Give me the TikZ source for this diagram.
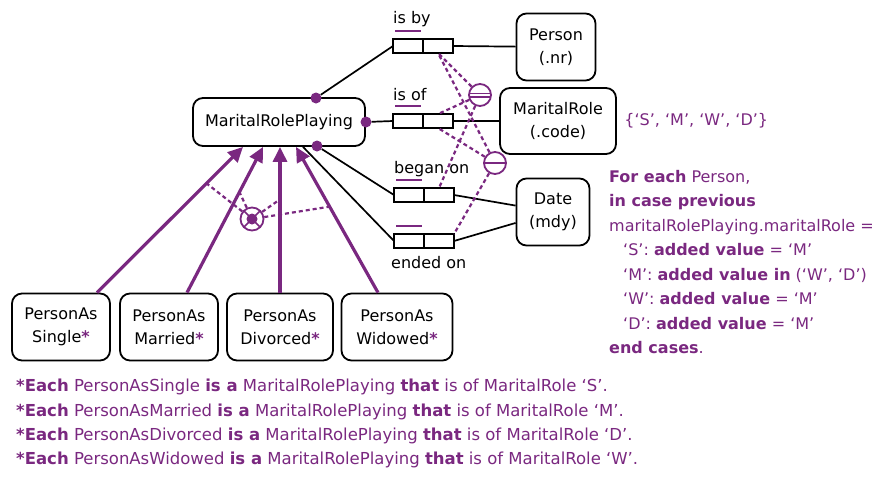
\documentclass[tikz,border=0pt]{standalone}
\usepackage{fontspec}
\setmainfont{DejaVu Sans}
\usepackage{tikz}
\usetikzlibrary{calc,positioning,arrows.meta,shapes}
\definecolor{mrpurple}{RGB}{122,40,128}
\tikzset{
  entity/.style={
      draw,
      line width=1.8pt,
      rounded corners=10pt,
      fill=white,
      align=center,
      inner sep=0pt,
  },
  rolebox/.style={
      draw,
      line width=1.7pt,
      fill=white,
      minimum width=30pt,
      minimum height=14pt,
      inner sep=0pt,
      outer sep=0pt,
  },
  rolelabel/.style={
      anchor=base west,
      inner sep=0pt,
  },
  link/.style={
      line width=1.7pt,
  },
  ubar/.style={
      draw=mrpurple,
      line width=2.2pt,
  },
  mdot/.style={
      circle,
      fill=mrpurple,
      minimum size=11pt,
      inner sep=0pt,
  },
  constr/.style={
      draw=mrpurple,
      line width=2.2pt,
      dash pattern=on 4pt off 3pt,
  },
  extuniq/.style={
      circle,
      draw=mrpurple,
      line width=1.8pt,
      fill=white,
      minimum size=22pt,
      inner sep=0pt,
      path picture={
        \draw[mrpurple, line width=1.4pt]
          ([yshift=1.8pt]path picture bounding box.west) -- ([yshift=1.8pt]path picture bounding box.east)
          ([yshift=-1.8pt]path picture bounding box.west) -- ([yshift=-1.8pt]path picture bounding box.east);
      },
  },
  uniqc/.style={
      circle,
      draw=mrpurple,
      line width=1.8pt,
      fill=white,
      minimum size=22pt,
      inner sep=0pt,
      path picture={
        \draw[mrpurple, line width=1.6pt]
          (path picture bounding box.west) -- (path picture bounding box.east);
      },
  },
  xorc/.style={
      circle,
      draw=mrpurple,
      line width=1.8pt,
      fill=white,
      minimum size=23pt,
      inner sep=0pt,
      path picture={
        \draw[mrpurple, line width=1.6pt]
          (path picture bounding box.north west) -- (path picture bounding box.south east)
          (path picture bounding box.north east) -- (path picture bounding box.south west);
        \fill[mrpurple] (path picture bounding box.center) circle (5.5pt);
      },
  },
  subarrow/.style={
      draw=mrpurple,
      line width=3.2pt,
      -{Triangle[length=15pt,width=14pt]},
  },
}
\newcommand{\starmark}{{\color{mrpurple}\bfseries *}}
\newcommand{\rulekw}[1]{{\color{mrpurple}\bfseries #1}}
\newcommand{\ruletext}[1]{{\color{mrpurple}#1}}

\begin{document}
\begin{tikzpicture}[x=1pt, y=-1pt]
  \tikzstyle{every node}=[font=\fontsize{16}{23}\selectfont]
  \useasboundingbox (0,0) rectangle (877,477);

  % object types
  \node (mrp) [entity, minimum width=172pt, minimum height=48pt] at (279,122) {MaritalRolePlaying};
  \node (person) [entity, minimum width=79pt, minimum height=67pt] at (556,47) {Person\\(.nr)};
  \node (marrole) [entity, minimum width=116pt, minimum height=66pt] at (558,121) {MaritalRole\\(.code)};
  \node (date) [entity, minimum width=73pt, minimum height=67pt] at (553,212) {Date\\(mdy)};
  \node (single) [entity, minimum width=98pt, minimum height=67pt] at (61,327) {PersonAs\\Single\starmark};
  \node (married) [entity, minimum width=98pt, minimum height=67pt] at (169,327) {PersonAs\\Married\starmark};
  \node (divorced) [entity, minimum width=106pt, minimum height=67pt] at (280,327) {PersonAs\\Divorced\starmark};
  \node (widowed) [entity, minimum width=111pt, minimum height=67pt] at (397,327) {PersonAs\\Widowed\starmark};

  % fact types
  \node (isbyA) [rolebox] at (408,46) {};
  \node (isbyB) [rolebox, right=0pt of isbyA] {};
  \node (isofA) [rolebox] at (408,121) {};
  \node (isofB) [rolebox, right=0pt of isofA] {};
  \node (beganA) [rolebox] at (409,195) {};
  \node (beganB) [rolebox, right=0pt of beganA] {};
  \node (endedA) [rolebox] at (409,241) {};
  \node (endedB) [rolebox, right=0pt of endedA] {};

  \node (isbylbl) [rolelabel] at (393,23) {is by};
  \node (isoflbl) [rolelabel] at (393,100) {is of};
  \node (beganlbl) [rolelabel] at (394,173) {began on};
  \node (endedlbl) [rolelabel] at (391,268) {ended on};

  \draw[ubar] ([shift={(2,-8)}]isbyA.north west) -- ([shift={(-2,-8)}]isbyA.north east);
  \draw[ubar] ([shift={(2,-8)}]isofA.north west) -- ([shift={(-2,-8)}]isofA.north east);
  \draw[ubar] ([shift={(2,-8)}]beganA.north west) -- ([shift={(-2,-8)}]beganA.north east);
  \draw[ubar] ([shift={(2,-8)}]endedA.north west) -- ([shift={(-2,-8)}]endedA.north east);

  % mandatory role dots
  \node (dtop) [mdot] at (316,98) {};
  \node (dright) [mdot] at (366,122) {};
  \node (dbottom) [mdot] at (317,146) {};

  \draw[link] (dtop) -- (isbyA.west);
  \draw[link] (isbyB.east) -- (person);
  \draw[link] (dright) -- (isofA.west);
  \draw[link] (isofB.east) -- (marrole);
  \draw[link] (dbottom) -- (beganA.west);
  \draw[link] (beganB.east) -- (date);
  \draw[link] (mrp) -- (endedA.west);
  \draw[link] (endedB.east) -- (date);

  % external uniqueness constraints
  \node (eu1) [extuniq] at (480,95) {};
  \node (eu2) [uniqc] at (495,163) {};
  \draw[constr] (eu1) -- (isbyB.south);
  \draw[constr] (eu1) -- (isofB.north);
  \draw[constr] (eu1) -- (beganB.north);
  \draw[constr] (eu2) -- (isbyB.south);
  \draw[constr] (eu2) -- (isofB.south);
  \draw[constr] (eu2) -- (endedB.north east);

  % subtyping
  \coordinate (s1) at ([xshift=36pt]single.north);
  \coordinate (s2) at ([xshift=18pt]married.north);
  \coordinate (s3) at (divorced.north);
  \coordinate (s4) at ([xshift=-19pt]widowed.north);
  \coordinate (t1) at ([xshift=-36pt]mrp.south);
  \coordinate (t2) at ([xshift=-16pt]mrp.south);
  \coordinate (t3) at ([xshift=1pt]mrp.south);
  \coordinate (t4) at ([xshift=17pt]mrp.south);
  \draw[subarrow] (s1) -- (t1);
  \draw[subarrow] (s2) -- (t2);
  \draw[subarrow] (s3 |- divorced.north) -- (s3 |- mrp.south);
  \draw[subarrow] (s4) -- (t4);

  \coordinate (a1) at ($(t1)!0.25!(s1)$);
  \coordinate (a2) at ($(t2)!0.31!(s2)$);
  \coordinate (a3) at ($(t3)!0.36!(s3)$);
  \coordinate (a4) at ($(t4)!0.41!(s4)$);
  \node (xor) [xorc] at (252,219) {};
  \draw[constr] (xor) -- (a1);
  \draw[constr] (xor) -- (a2);
  \draw[constr] (xor) -- (a3);
  \draw[constr] (xor) -- (a4);

  % value constraint and rules
  \node (values) [right=4pt of marrole, text=mrpurple] {\{‘S’, ‘M’, ‘W’, ‘D’\}};
  \node (cases) [anchor=north west, align=left, inner sep=3pt,
                 font=\fontsize{16}{24.5}\selectfont] at (606,167) {
      \rulekw{For each} \ruletext{Person,}
      \\\rulekw{in case previous}
      \\\ruletext{maritalRolePlaying.maritalRole =}
      \\\hspace*{14pt}\ruletext{‘S’:} \rulekw{added value} \ruletext{= ‘M’}
      \\\hspace*{14pt}\ruletext{‘M’:} \rulekw{added value in} \ruletext{(‘W’, ‘D’)}
      \\\hspace*{14pt}\ruletext{‘W’:} \rulekw{added value} \ruletext{= ‘M’}
      \\\hspace*{14pt}\ruletext{‘D’:} \rulekw{added value} \ruletext{= ‘M’}
      \\\rulekw{end cases}\ruletext{.}};
  \node (notes) [anchor=north west, align=left, inner sep=3pt,
                 font=\fontsize{16.5}{24.4}\selectfont] at (13,376) {
      \rulekw{*Each} \ruletext{PersonAsSingle} \rulekw{is a} \ruletext{MaritalRolePlaying} \rulekw{that} \ruletext{is of MaritalRole ‘S’.}
      \\\rulekw{*Each} \ruletext{PersonAsMarried} \rulekw{is a} \ruletext{MaritalRolePlaying} \rulekw{that} \ruletext{is of MaritalRole ‘M’.}
      \\\rulekw{*Each} \ruletext{PersonAsDivorced} \rulekw{is a} \ruletext{MaritalRolePlaying} \rulekw{that} \ruletext{is of MaritalRole ‘D’.}
      \\\rulekw{*Each} \ruletext{PersonAsWidowed} \rulekw{is a} \ruletext{MaritalRolePlaying} \rulekw{that} \ruletext{is of MaritalRole ‘W’.}};
\end{tikzpicture}
\end{document}
